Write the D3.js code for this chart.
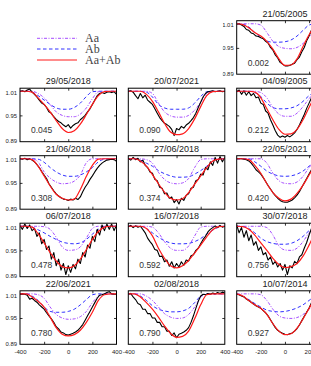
<!DOCTYPE html>
<html><head><meta charset="utf-8">
<script src="https://cdn.jsdelivr.net/npm/d3@7"></script>
<style>body{margin:0;background:#fff}svg{display:block}</style>
</head><body><svg id="c" width="311" height="366"></svg>
<script>
// ---------- data ----------
const panelDates = ["21/05/2005","29/05/2018","20/07/2021","04/09/2005","21/06/2018","27/06/2018","22/05/2021","06/07/2018","16/07/2018","30/07/2018","22/06/2021","02/08/2018","10/07/2014"];
const panelPhases = ["0.002","0.045","0.090","0.212","0.308","0.374","0.420","0.478","0.592","0.756","0.780","0.790","0.927"];
const seriesNames = ["Aa","Ab","Aa+Ab"];
const xTicks = [-400,-200,0,200,400];
const xTickLabels = ["-400","-200","0","200","400"];
const yTicks = [0.89,0.95,1.01];
const yTickLabels = ["0.89","0.95","1.01"];
const xModel = [-400,-350,-300,-250,-200,-150,-100,-50,0,50,100,150,200,250,300,350,400];
const xObs = [-400,-380,-360,-340,-320,-300,-280,-260,-240,-220,-200,-180,-160,-140,-120,-100,-80,-60,-40,-20,0,20,40,60,80,100,120,140,160,180,200,220,240,260,280,300,320,340,360,380,400];

const aaFlux = [
[1.005,1.005,1.005,1.005,1.002,0.985,0.965,0.953,0.949,0.948,0.951,0.960,0.975,0.992,1.003,1.005,1.005],
[1.005,1.005,1.005,1.000,0.990,0.975,0.958,0.950,0.947,0.947,0.953,0.967,0.988,1.004,1.005,1.005,1.005],
[1.005,1.005,1.005,1.005,1.000,0.978,0.958,0.949,0.946,0.946,0.950,0.962,0.980,1.000,1.005,1.005,1.005],
[1.005,1.005,1.005,1.005,1.002,0.990,0.968,0.953,0.948,0.948,0.955,0.970,0.988,1.002,1.005,1.005,1.005],
[1.005,1.005,1.005,0.998,0.975,0.961,0.952,0.948,0.949,0.954,0.968,0.996,1.005,1.005,1.005,1.005,1.005],
[1.005,1.005,1.005,1.003,0.995,0.974,0.958,0.950,0.948,0.950,0.960,0.985,1.003,1.005,1.005,1.005,1.005],
[1.005,1.005,1.005,1.005,1.005,0.995,0.972,0.955,0.949,0.948,0.952,0.965,0.985,1.000,1.005,1.005,1.005],
[1.005,1.005,1.005,1.005,1.004,0.998,0.980,0.958,0.950,0.951,0.958,0.978,1.000,1.005,1.005,1.005,1.005],
[1.005,1.005,1.005,1.005,1.003,0.990,0.970,0.955,0.950,0.950,0.960,0.983,1.003,1.005,1.005,1.005,1.005],
[1.005,1.005,1.005,1.005,1.005,1.002,0.985,0.960,0.951,0.950,0.955,0.970,0.990,1.003,1.005,1.005,1.005],
[1.005,1.005,1.005,1.003,0.995,0.975,0.958,0.950,0.947,0.948,0.953,0.965,0.985,1.000,1.005,1.005,1.005],
[1.005,1.005,1.005,1.000,0.990,0.975,0.960,0.952,0.949,0.950,0.958,0.975,0.997,1.005,1.005,1.005,1.005],
[1.005,1.005,1.005,1.005,1.003,0.990,0.970,0.955,0.950,0.949,0.951,0.958,0.970,0.988,1.002,1.005,1.005]
];
const abFlux = [
[1.005,1.004,0.998,0.985,0.975,0.966,0.963,0.963,0.964,0.968,0.977,0.990,1.002,1.005,1.005,1.005,1.005],
[1.005,1.005,1.003,0.995,0.985,0.975,0.967,0.964,0.964,0.968,0.978,0.993,1.004,1.005,1.005,1.005,1.005],
[1.005,1.005,1.005,1.003,0.992,0.975,0.967,0.964,0.964,0.964,0.967,0.978,0.993,1.004,1.005,1.005,1.005],
[1.005,1.005,1.005,1.002,0.993,0.978,0.968,0.965,0.965,0.967,0.972,0.982,0.995,1.003,1.005,1.005,1.005],
[1.005,1.005,1.005,1.004,0.997,0.985,0.975,0.968,0.965,0.965,0.968,0.975,0.985,0.998,1.004,1.005,1.005],
[1.005,1.005,1.002,0.995,0.988,0.978,0.971,0.966,0.963,0.963,0.964,0.970,0.978,0.988,0.999,1.004,1.005],
[1.005,1.005,1.005,0.998,0.988,0.977,0.970,0.966,0.965,0.966,0.970,0.977,0.988,0.998,1.005,1.005,1.005],
[1.005,1.005,1.003,0.997,0.990,0.982,0.975,0.969,0.966,0.965,0.967,0.975,0.987,0.998,1.004,1.005,1.005],
[1.005,1.005,1.005,1.000,0.990,0.980,0.972,0.967,0.965,0.965,0.966,0.970,0.977,0.987,0.996,1.003,1.005],
[1.005,1.005,1.000,0.990,0.978,0.970,0.966,0.964,0.964,0.966,0.972,0.982,0.995,1.003,1.005,1.005,1.005],
[1.005,1.005,1.000,0.990,0.975,0.965,0.963,0.963,0.965,0.970,0.980,0.992,1.003,1.005,1.005,1.005,1.005],
[1.005,1.005,1.000,0.990,0.978,0.970,0.966,0.964,0.964,0.966,0.972,0.985,1.000,1.005,1.005,1.005,1.005],
[1.005,1.000,0.992,0.983,0.975,0.968,0.965,0.964,0.965,0.968,0.973,0.980,0.990,1.000,1.005,1.005,1.005]
];
const fitFlux = [
[1.005,1.003,0.996,0.985,0.977,0.965,0.947,0.925,0.910,0.911,0.925,0.953,0.980,0.999,1.004,1.005,1.005],
[1.005,1.005,1.003,0.990,0.975,0.958,0.938,0.920,0.911,0.915,0.930,0.952,0.975,0.995,1.004,1.005,1.005],
[1.005,1.005,1.005,0.998,0.982,0.958,0.932,0.912,0.906,0.908,0.920,0.942,0.970,0.995,1.004,1.005,1.005],
[1.005,1.005,1.005,1.003,0.990,0.965,0.940,0.918,0.907,0.908,0.918,0.940,0.968,0.993,1.004,1.005,1.005],
[1.005,1.005,1.003,0.988,0.966,0.943,0.924,0.915,0.911,0.913,0.935,0.965,0.990,1.004,1.005,1.005,1.005],
[1.005,1.005,1.000,0.988,0.969,0.948,0.929,0.915,0.911,0.914,0.928,0.947,0.966,0.985,1.000,1.004,1.005],
[1.005,1.005,1.003,0.990,0.972,0.948,0.928,0.915,0.909,0.913,0.926,0.945,0.968,0.990,1.003,1.005,1.005],
[1.005,1.005,1.003,0.988,0.967,0.945,0.926,0.913,0.910,0.915,0.930,0.952,0.975,0.993,1.003,1.005,1.005],
[1.005,1.005,1.005,1.000,0.983,0.955,0.932,0.915,0.910,0.915,0.927,0.944,0.962,0.981,0.997,1.004,1.005],
[1.005,1.004,0.998,0.985,0.967,0.950,0.932,0.918,0.911,0.913,0.920,0.937,0.962,0.990,1.003,1.005,1.005],
[1.005,1.005,0.998,0.988,0.975,0.952,0.928,0.913,0.909,0.912,0.922,0.940,0.963,0.990,1.003,1.005,1.005],
[1.005,1.005,0.998,0.985,0.970,0.952,0.932,0.915,0.906,0.908,0.920,0.948,0.980,1.003,1.005,1.005,1.005],
[1.005,1.000,0.990,0.980,0.972,0.958,0.937,0.920,0.912,0.914,0.927,0.948,0.972,0.995,1.005,1.005,1.005]
];
const obsFlux = [
[1.004,1.005,1.002,0.999,0.992,0.990,0.984,0.982,0.977,0.976, 0.973,0.971,0.965,0.961,0.951,0.945,0.934,0.927,0.917,0.913, 0.909,0.909,0.910,0.913,0.915,0.923,0.929,0.941,0.951,0.966, 0.977,0.991,0.998,1.003,1.004,1.005,1.004,1.005,1.005,1.004, 1.005],
[1.005,1.006,1.004,1.008,1.010,1.003,0.998,0.992,0.985,0.978, 0.975,0.968,0.958,0.955,0.947,0.941,0.936,0.933,0.928,0.924, 0.929,0.921,0.927,0.931,0.933,0.940,0.945,0.950,0.958,0.965, 0.975,0.985,0.995,1.000,1.002,1.000,1.003,1.004,1.002,1.004, 0.998],
[1.005,1.006,1.003,0.995,0.988,1.000,0.990,0.996,0.985,0.980, 0.975,0.965,0.955,0.945,0.938,0.932,0.929,0.925,0.918,0.904, 0.920,0.917,0.925,0.921,0.928,0.932,0.938,0.945,0.955,0.968, 0.980,0.992,1.000,1.004,1.005,1.006,1.004,1.005,1.006,1.004, 1.005],
[1.004,1.008,0.998,1.006,0.996,1.004,0.995,1.000,0.990,0.992, 0.978,0.975,0.960,0.955,0.940,0.928,0.915,0.905,0.900,0.903, 0.900,0.904,0.901,0.905,0.910,0.918,0.928,0.940,0.952,0.966, 0.978,0.990,0.998,1.003,1.005,1.004,1.006,1.004,1.005,1.004, 1.005],
[1.005,1.004,1.006,1.003,1.005,1.002,0.998,0.992,0.985,0.976, 0.968,0.960,0.948,0.940,0.932,0.925,0.920,0.916,0.913,0.912, 0.910,0.913,0.911,0.915,0.912,0.918,0.930,0.940,0.948,0.958, 0.966,0.975,0.983,0.990,0.995,0.999,1.002,1.003,1.004,1.003, 0.999],
[1.006,1.002,1.008,1.003,1.006,0.998,1.002,0.990,0.985,0.975, 0.972,0.958,0.955,0.940,0.938,0.925,0.927,0.915,0.918,0.905, 0.912,0.902,0.915,0.910,0.922,0.925,0.938,0.940,0.955,0.958, 0.970,0.968,0.985,0.980,0.998,0.990,1.008,0.995,1.010,0.998, 1.008],
[1.005,1.005,1.005,1.004,1.003,1.000,0.995,0.988,0.980,0.975, 0.970,0.962,0.953,0.944,0.936,0.928,0.921,0.915,0.910,0.907, 0.906,0.906,0.908,0.911,0.916,0.922,0.930,0.940,0.950,0.960, 0.970,0.980,0.988,0.995,1.000,1.003,1.005,1.005,1.005,1.005, 1.005],
[1.006,0.998,1.010,1.000,1.008,0.995,1.000,0.982,0.990,0.965, 0.975,0.952,0.960,0.930,0.945,0.915,0.930,0.905,0.920,0.895, 0.915,0.900,0.918,0.908,0.930,0.920,0.945,0.935,0.962,0.955, 0.982,0.970,0.998,0.985,1.008,0.995,1.010,0.998,1.010,0.995, 1.008],
[1.004,1.007,1.002,1.006,1.003,1.005,0.998,0.990,0.978,0.970, 0.963,0.952,0.950,0.936,0.937,0.924,0.928,0.914,0.924,0.910, 0.920,0.912,0.924,0.916,0.928,0.926,0.938,0.940,0.950,0.955, 0.965,0.975,0.982,0.992,0.998,1.002,1.006,1.002,1.007,1.003, 1.005],
[1.008,0.990,1.002,0.980,0.995,0.972,0.985,0.962,0.970,0.950, 0.958,0.940,0.945,0.928,0.935,0.918,0.925,0.912,0.920,0.905, 0.918,0.895,0.915,0.910,0.925,0.920,0.935,0.940,0.955,0.968, 0.985,1.000,1.005,1.003,1.006,1.004,1.005,1.003,1.005,1.004, 1.005],
[1.004,1.005,1.004,1.002,0.993,0.995,0.990,0.986,0.980,0.975, 0.970,0.962,0.955,0.948,0.940,0.930,0.925,0.918,0.916,0.912, 0.911,0.913,0.915,0.918,0.922,0.928,0.935,0.945,0.955,0.965, 0.975,0.985,0.995,1.002,1.003,1.005,1.008,1.010,1.005,1.004, 1.004],
[1.004,1.006,0.998,0.992,0.983,0.980,0.970,0.970,0.960,0.960, 0.950,0.950,0.940,0.940,0.930,0.930,0.920,0.920,0.910,0.916, 0.905,0.913,0.915,0.918,0.922,0.928,0.940,0.955,0.972,0.988, 1.000,1.004,1.003,1.006,1.004,1.007,1.005,1.008,1.006,1.009, 1.007],
[1.004,1.003,1.000,0.998,0.993,0.990,0.986,0.982,0.978,0.975, 0.972,0.967,0.962,0.955,0.946,0.937,0.928,0.922,0.918,0.915, 0.913,0.912,0.914,0.916,0.920,0.926,0.934,0.944,0.954,0.963, 0.973,0.985,0.995,1.002,1.004,1.005,1.005,1.005,1.005,1.005, 1.005]
];

// ---------- layout ----------
const svg = d3.select("#c");
const W = 96.5, H = 53.5;
const colLeft = [20, 128.3, 236.7];
const rowBottom = [74.2, 141.7, 209.2, 276.7, 344.3];
const colors = {aa:"#a64cff", ab:"#3030ff", fit:"#ff1a1a", obs:"#000"};
const font = "'Liberation Sans', Arial, sans-serif";

const x = d3.scaleLinear().domain([-400,400]).range([0,W]);
const y = d3.scaleLinear().domain([0.89,1.012]).range([H,0]);

const lineModel = d3.line().x((d,i)=>x(xModel[i])).y(d=>y(d)).curve(d3.curveMonotoneX);
const lineObs = d3.line().x((d,i)=>x(xObs[i])).y(d=>y(d));

function cell(i){
  if(i===0) return {col:2,row:0};
  return {col:(i-1)%3,row:Math.floor((i-1)/3)+1};
}

const defs = svg.append("defs");
defs.append("clipPath").attr("id","plotclip").append("rect").attr("x",0).attr("y",0).attr("width",W).attr("height",H);
defs.append("clipPath").attr("id","lblclip").append("rect").attr("x",-14).attr("y",-5).attr("width",20).attr("height",H+10);

panelDates.forEach((date,i)=>{
  const {col,row} = cell(i);
  const left = colLeft[col], top = rowBottom[row]-H;
  const g = svg.append("g").attr("transform",`translate(${left},${top})`);

  const plot = g.append("g").attr("clip-path","url(#plotclip)");
  plot.append("path").attr("d",lineModel(abFlux[i])).attr("fill","none")
    .attr("stroke",colors.ab).attr("stroke-width",1).attr("stroke-dasharray","3.5,2.5");
  plot.append("path").attr("d",lineModel(aaFlux[i])).attr("fill","none")
    .attr("stroke",colors.aa).attr("stroke-width",1).attr("stroke-dasharray","3,1.5,1,1.5");
  plot.append("path").attr("d",lineObs(obsFlux[i])).attr("fill","none")
    .attr("stroke",colors.obs).attr("stroke-width",1.1).attr("stroke-linejoin","round");
  plot.append("path").attr("d",lineModel(fitFlux[i])).attr("fill","none")
    .attr("stroke",colors.fit).attr("stroke-width",1.2);

  // inward ticks
  const tk = [[d3.axisBottom(x).tickValues([-200,0,200]),`translate(0,${H})`],
              [d3.axisTop(x).tickValues([-200,0,200]),`translate(0,0)`],
              [d3.axisLeft(y).tickValues([0.95]),`translate(0,0)`],
              [d3.axisRight(y).tickValues([0.95]),`translate(${W},0)`]];
  tk.forEach(([ax,tr])=>{
    const a = g.append("g").attr("transform",tr).call(ax.tickSize(-2.5).tickFormat(""));
    a.select(".domain").remove();
    a.selectAll("line").attr("stroke","#000").attr("stroke-width",0.8);
  });
  g.append("rect").attr("width",W).attr("height",H).attr("fill","none").attr("stroke","#000").attr("stroke-width",1);

  // title
  g.append("text").attr("x",W/2).attr("y",-4).attr("text-anchor","middle")
    .attr("font-family",font).attr("font-size",9).attr("fill","#222").text(date);
  // phase
  g.append("text").attr("x",11).attr("y",H-8.5)
    .attr("font-family",font).attr("font-size",8.5).attr("fill","#333").text(panelPhases[i]);

  // y labels
  if(col===0 || i===0){
    const ya = g.append("g").call(d3.axisLeft(y).tickValues(yTicks).tickSize(0).tickPadding(3)
        .tickFormat((d,k)=>yTickLabels[k]));
    ya.select(".domain").remove();
    ya.selectAll("text").attr("font-family",font).attr("font-size",6).attr("fill","#222")
      .attr("textLength",11.5).attr("lengthAdjust","spacingAndGlyphs")
      .attr("dy",(d)=> d===1.01 ? "0.9em" : (d===0.89 ? "0.2em" : "0.32em"));
    if(i===0) ya.attr("clip-path","url(#lblclip)");
  }
  // x labels
  if(row===4){
    const xa = g.append("g").attr("transform",`translate(0,${H})`)
      .call(d3.axisBottom(x).tickValues(xTicks).tickSize(0).tickPadding(5).tickFormat((d,k)=>xTickLabels[k]));
    xa.select(".domain").remove();
    xa.selectAll("text").attr("font-family",font).attr("font-size",6).attr("fill","#222");
  }
});

// legend
const legend = svg.append("g");
const legStyles = [
  {c:colors.aa, dash:"3,1.5,1,1.5"},
  {c:colors.ab, dash:"3.5,2.5"},
  {c:colors.fit, dash:null}
];
const legY = [38.3, 49, 60];
seriesNames.forEach((name,k)=>{
  legend.append("line").attr("x1",37).attr("x2",77).attr("y1",legY[k]).attr("y2",legY[k])
    .attr("stroke",legStyles[k].c).attr("stroke-width",k===2?1.2:1)
    .attr("stroke-dasharray",legStyles[k].dash);
  legend.append("text").attr("x",85).attr("y",legY[k]+4).attr("font-family","'Liberation Serif', 'Times New Roman', serif")
    .attr("font-size",12).attr("fill","#444").text(name);
});
</script></body></html>
